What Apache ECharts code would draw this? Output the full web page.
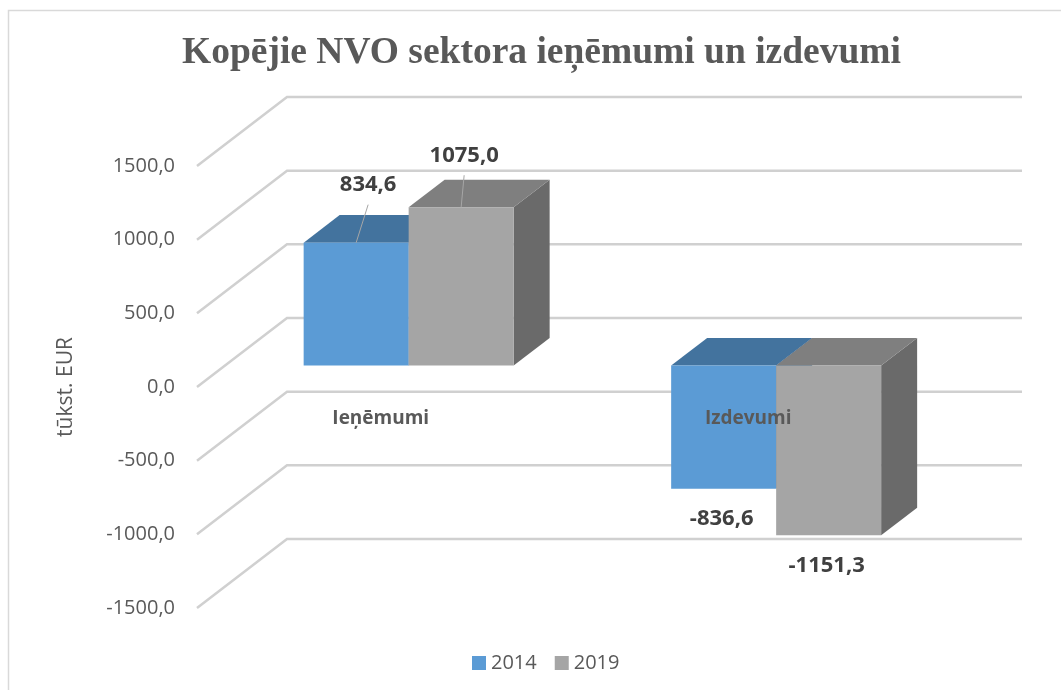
<!DOCTYPE html>
<html>
<head>
<meta charset="utf-8">
<script src="https://cdn.jsdelivr.net/npm/echarts@6.0.0/dist/echarts.min.js"></script>
<style>
  html, body { margin: 0; padding: 0; background: #fff; }
  #chart { width: 1061px; height: 690px; }
</style>
</head>
<body>
<div id="chart"></div>
<script>
// dati
var categories = ["Ieņēmumi", "Izdevumi"];
var values2014 = [834.6, -836.6];
var values2019 = [1075.0, -1151.3];
var yTicks = [-1500, -1000, -500, 0, 500, 1000, 1500];

var Y_MIN = -1500, Y_MAX = 1500;
var GRID_H = 442;

// 3D "kastes" dziļums (no priekšējās plaknes līdz aizmugures sienai)
var DEPTH_X = 90, DEPTH_Y = -69;
var BAR_POS = 0.31;   // stabiņa priekšpuse dziļumā
var BAR_DEPTH = 0.40; // stabiņa biezums
var BAR_RATIO = 0.2857;

function fmt(v) {
  return v.toFixed(1).replace(".", ",");
}

function barSeries(name, data, colors, side, lbl) {
  return {
    name: name,
    type: "custom",
    z: side === "left" ? 3 : 4,
    itemStyle: { color: colors.front },
    data: data.map(function (v, i) { return [i, v]; }),
    renderItem: function (params, api) {
      var cat = api.value(0), val = api.value(1);
      var base = api.coord([cat, 0]);
      var end = api.coord([cat, val]);
      var w = api.size([1, 0])[0] * BAR_RATIO;
      var px = DEPTH_X * BAR_POS, py = DEPTH_Y * BAR_POS;
      var dx = DEPTH_X * BAR_DEPTH, dy = DEPTH_Y * BAR_DEPTH;
      var x0 = base[0] + (side === "left" ? -w : 0) + px;
      var x1 = x0 + w;
      var yTop = Math.min(base[1], end[1]) + py;
      var yBot = Math.max(base[1], end[1]) + py;
      var cx = (x0 + x1) / 2;
      var kids = [
        {
          type: "polygon",
          shape: { points: [[x1, yTop], [x1 + dx, yTop + dy], [x1 + dx, yBot + dy], [x1, yBot]] },
          style: { fill: colors.side }
        },
        {
          type: "polygon",
          shape: { points: [[x0, yTop], [x1, yTop], [x1 + dx, yTop + dy], [x0 + dx, yTop + dy]] },
          style: { fill: colors.top }
        },
        {
          type: "rect",
          shape: { x: x0, y: yTop, width: w, height: yBot - yTop },
          style: { fill: colors.front }
        }
      ];
      var txt = { fill: "#404040", font: "bold 22px 'Open Sans'", align: "center", verticalAlign: "middle" };
      if (val >= 0) {
        kids.push({
          type: "line",
          shape: { x1: cx, y1: yTop, x2: cx + lbl.dx, y2: yTop + lbl.lineTop },
          style: { stroke: "#a6a6a6", lineWidth: 1 }
        });
        kids.push({ type: "text", x: cx + lbl.dx, y: yTop + lbl.dy, style: Object.assign({ text: fmt(val) }, txt) });
      } else {
        kids.push({ type: "text", x: cx - 2, y: yBot + 30, style: Object.assign({ text: fmt(val) }, txt) });
      }
      return { type: "group", children: kids };
    }
  };
}

var chart = echarts.init(document.getElementById("chart"));
chart.setOption({
  animation: false,
  backgroundColor: "#fff",
  title: {
    text: "Kopējie NVO sektora ieņēmumi un izdevumi",
    left: 182,
    top: 34,
    padding: 0,
    textStyle: { fontFamily: "Liberation Serif", fontWeight: "bold", fontSize: 37.5, color: "#595959" }
  },
  graphic: [
    {
      type: "rect",
      shape: { x: 8.5, y: 10.5, width: 1100, height: 700 },
      style: { fill: null, stroke: "#d9d9d9", lineWidth: 1.5 },
      silent: true
    }
  ],
  legend: {
    data: ["2014", "2019"],
    left: 467,
    top: 648,
    icon: "rect",
    itemWidth: 14,
    itemHeight: 14,
    itemGap: 18,
    textStyle: { fontFamily: "Open Sans", fontSize: 20, color: "#595959" }
  },
  grid: { left: 197, top: 166, width: 735, height: GRID_H },
  xAxis: {
    type: "category",
    data: categories,
    z: 10,
    position: "bottom",
    // kategoriju nosaukumi pie nulles līnijas
    offset: -GRID_H * (0 - Y_MIN) / (Y_MAX - Y_MIN),
    axisLine: { show: false, onZero: false },
    axisTick: { show: false },
    axisLabel: {
      margin: 22,
      fontFamily: "Open Sans",
      fontWeight: "bold",
      fontSize: 19,
      color: "#595959"
    }
  },
  yAxis: {
    type: "value",
    min: Y_MIN,
    max: Y_MAX,
    interval: 500,
    name: "tūkst. EUR",
    nameLocation: "middle",
    nameGap: 120,
    nameTextStyle: { fontFamily: "Open Sans", fontSize: 21, color: "#595959" },
    axisLine: { show: false },
    axisTick: { show: false },
    splitLine: { show: false },
    axisLabel: {
      margin: 22,
      fontFamily: "Open Sans",
      fontSize: 20,
      color: "#595959",
      formatter: fmt
    }
  },
  series: [
    {
      type: "custom",
      z: 1,
      silent: true,
      data: yTicks.map(function (v) { return [0, v]; }),
      renderItem: function (params, api) {
        var y = api.coord([0, api.value(1)])[1];
        var x0 = params.coordSys.x;
        var x1 = x0 + params.coordSys.width;
        return {
          type: "polyline",
          shape: { points: [[x0, y], [x0 + DEPTH_X, y + DEPTH_Y], [x1 + DEPTH_X, y + DEPTH_Y]] },
          style: { stroke: "#d0d0d0", lineWidth: 2.5, fill: null }
        };
      }
    },
    barSeries("2014", values2014, { front: "#5b9bd5", top: "#43739e", side: "#3b6a94" }, "left",
      { dx: 12, dy: -58, lineTop: -38 }),
    barSeries("2019", values2019, { front: "#a5a5a5", top: "#7f7f7f", side: "#6a6a6a" }, "right",
      { dx: 3, dy: -51, lineTop: -32 })
  ]
});
</script>
</body>
</html>
